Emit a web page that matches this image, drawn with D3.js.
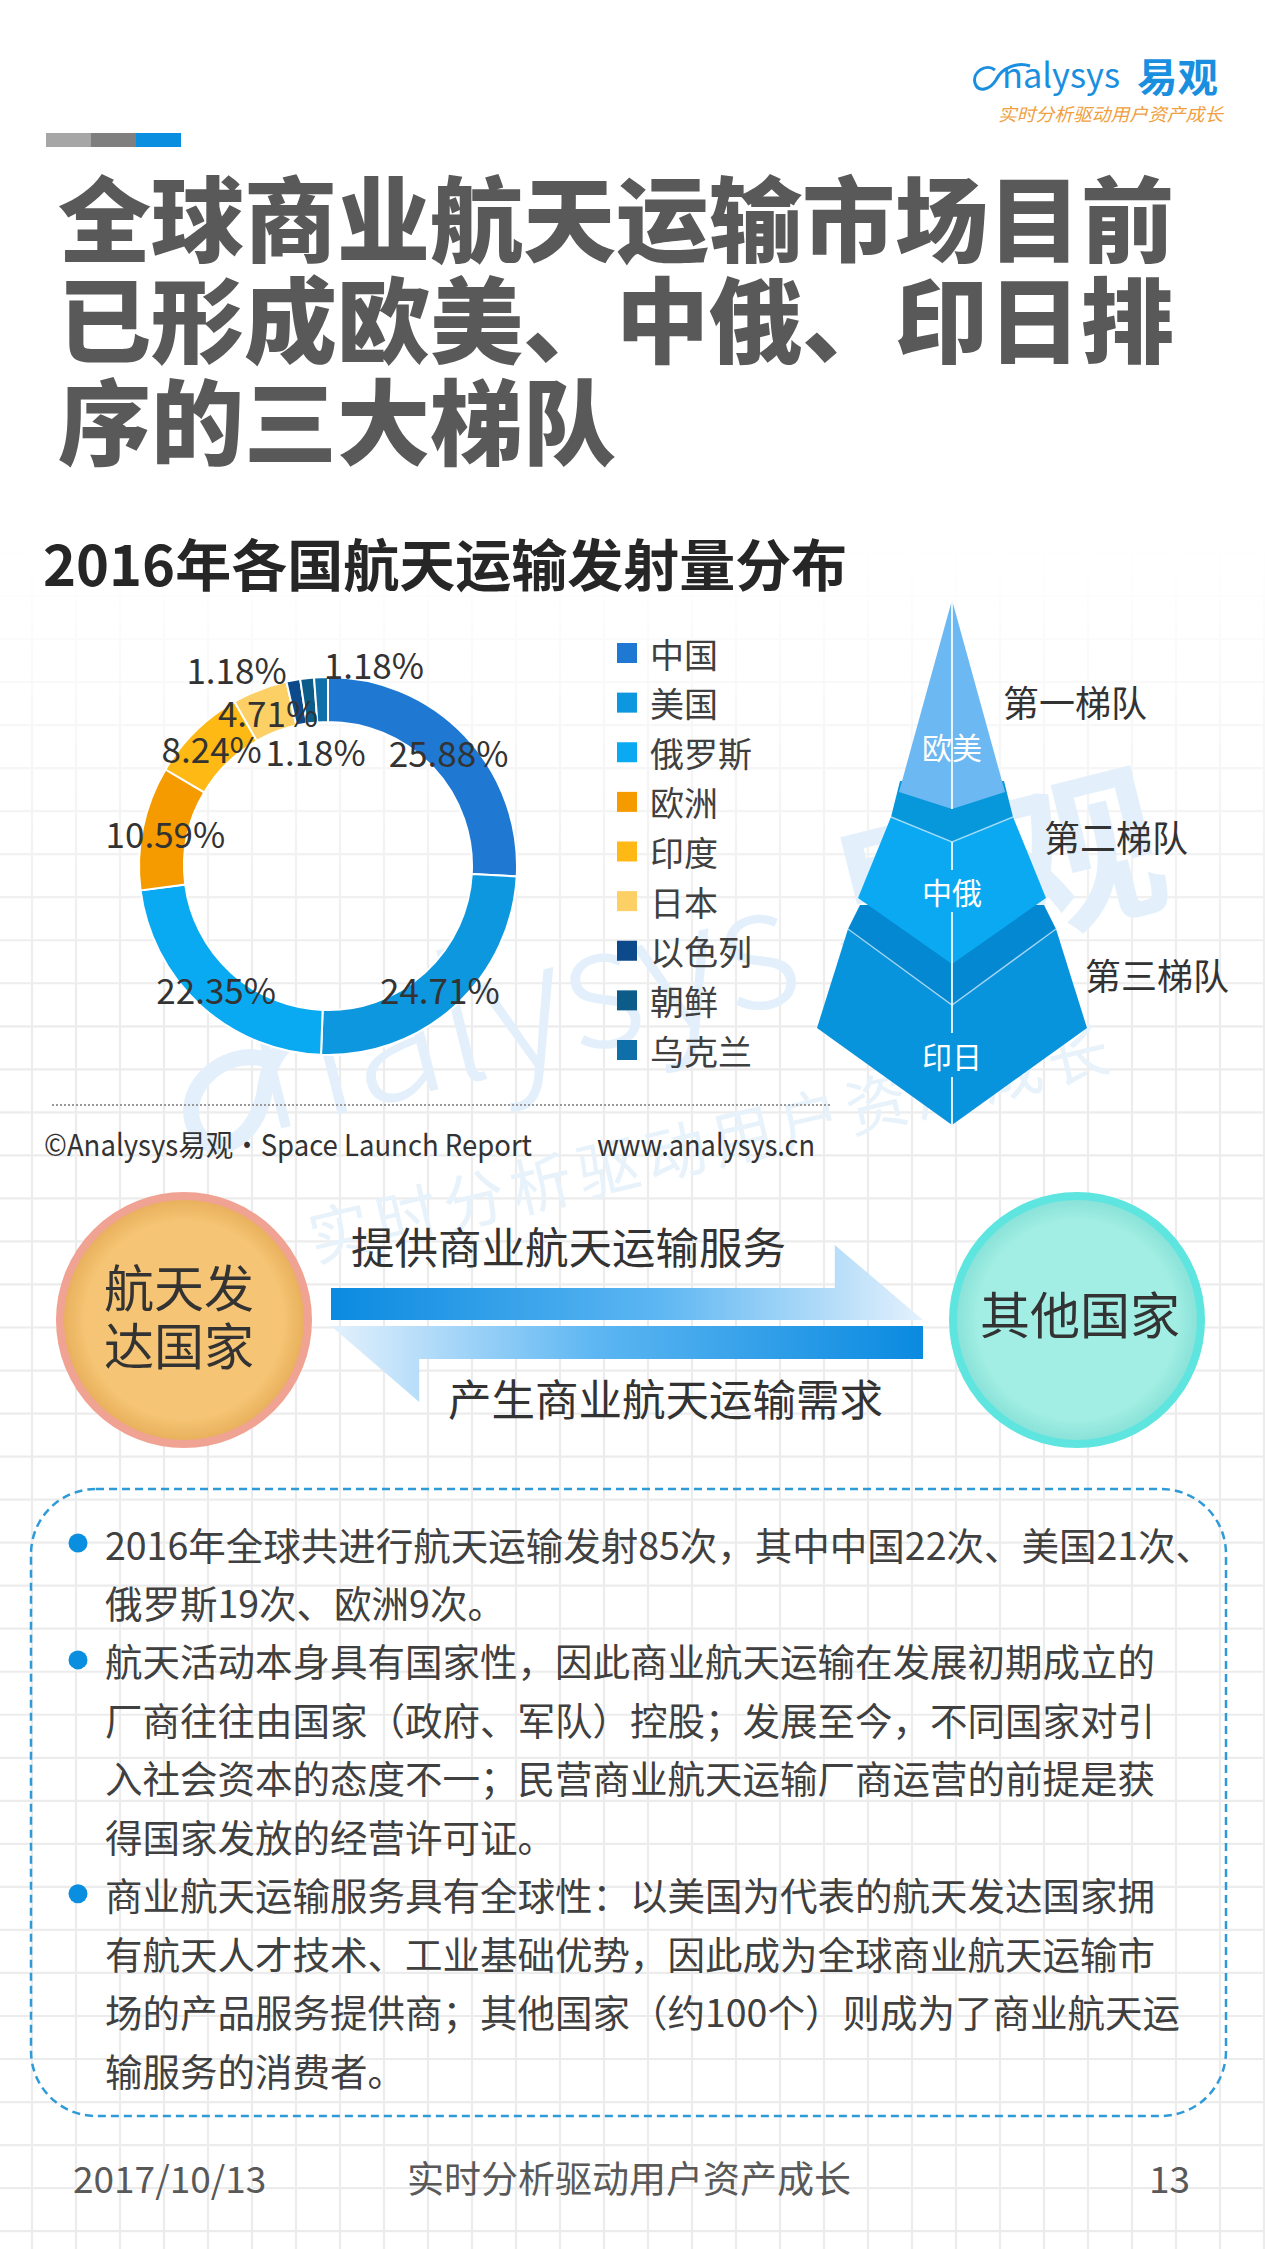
<!DOCTYPE html>
<html>
<head>
<meta charset="utf-8">
<script src="https://cdn.jsdelivr.net/npm/d3@7"></script>
<style>
  html, body { margin: 0; padding: 0; background: #fff; }
  svg { display: block; }
  text { font-family: "Noto Sans CJK SC", "Noto Sans", sans-serif; }
</style>
</head>
<body>
<svg id="slide" width="1265" height="2249"></svg>
<script>
// ---- data ----
const countries = ["中国", "美国", "俄罗斯", "欧洲", "印度", "日本", "以色列", "朝鲜", "乌克兰"];
const launches = [22, 21, 19, 9, 7, 4, 1, 1, 1];
const sliceColors = ["#1f78d1", "#0c97de", "#0aaaf3", "#f59b00", "#ffb914", "#fdd066", "#0d4a8b", "#0b5c88", "#0f6fa8"];
// small slices get their labels pushed off the ring (like the slide)
const labelNudge = [[0,0],[0,0],[0,0],[0,0],[0,0],[0,0],[-61,-34],[6,49],[52,-37]];

const tierRegions = ["欧美", "中俄", "印日"];
const tierNames = ["第一梯队", "第二梯队", "第三梯队"];

const titleLines = ["全球商业航天运输市场目前", "已形成欧美、中俄、印日排", "序的三大梯队"];
const chartTitle = "2016年各国航天运输发射量分布";
const sourceText = "©Analysys易观·Space Launch Report";
const siteText = "www.analysys.cn";
const flowTop = "提供商业航天运输服务";
const flowBottom = "产生商业航天运输需求";
const leftNode = ["航天发", "达国家"];
const rightNode = "其他国家";

const bullets = [
  ["2016年全球共进行航天运输发射85次，其中中国22次、美国21次、",
   "俄罗斯19次、欧洲9次。"],
  ["航天活动本身具有国家性，因此商业航天运输在发展初期成立的",
   "厂商往往由国家（政府、军队）控股；发展至今，不同国家对引",
   "入社会资本的态度不一；民营商业航天运输厂商运营的前提是获",
   "得国家发放的经营许可证。"],
  ["商业航天运输服务具有全球性：以美国为代表的航天发达国家拥",
   "有航天人才技术、工业基础优势，因此成为全球商业航天运输市",
   "场的产品服务提供商；其他国家（约100个）则成为了商业航天运",
   "输服务的消费者。"]
];
const footer = ["2017/10/13", "实时分析驱动用户资产成长", "13"];

const svg = d3.select("#slide"),
      width = +svg.attr("width"),
      height = +svg.attr("height");

const defs = svg.append("defs");

// ---- background grid (fades in from the chart title down) ----
const fade = defs.append("linearGradient").attr("id", "gridFade")
    .attr("gradientUnits", "userSpaceOnUse").attr("x1", 0).attr("x2", 0).attr("y1", 540).attr("y2", 1000);
fade.append("stop").attr("offset", 0).attr("stop-color", "#fff").attr("stop-opacity", 0);
fade.append("stop").attr("offset", 1).attr("stop-color", "#fff").attr("stop-opacity", 1);
defs.append("mask").attr("id", "gridMask")
  .append("rect").attr("x", 0).attr("y", 0).attr("width", width).attr("height", height).attr("fill", "url(#gridFade)");

const grid = svg.append("g").attr("mask", "url(#gridMask)")
    .attr("stroke", "#ececec").attr("stroke-width", 2.2);
grid.selectAll("line.v").data(d3.range(32, width, 44)).enter().append("line")
    .attr("class", "v").attr("x1", d => d).attr("x2", d => d).attr("y1", 540).attr("y2", height);
grid.selectAll("line.h").data(d3.range(36.6 + 43.03 * 12, height, 43.03)).enter().append("line")
    .attr("class", "h").attr("y1", d => d).attr("y2", d => d).attr("x1", 0).attr("x2", width);

// ---- watermark ----
const wmColor = "#e3f0fb";
const wm = svg.append("g").attr("transform", "translate(255,1135) rotate(-14)").attr("fill", wmColor);
wm.append("path")
    .attr("d", "M 30 -70 C -10 -95, -70 -60, -55 -15 C -45 15, 0 5, 20 -40 C 35 -80, 70 -100, 110 -80")
    .attr("fill", "none").attr("stroke", wmColor).attr("stroke-width", 16);
wm.append("text").attr("x", 10).attr("y", 0).attr("font-family", "Open Sans").attr("font-weight", 300)
    .attr("font-size", 170).text("nalysys");
wm.append("text").attr("x", 610).attr("y", -10).attr("font-weight", 700)
    .attr("font-size", 170).text("易观");
svg.append("g").attr("transform", "translate(315,1262) rotate(-13.5)")
  .append("text").attr("fill", "#e7f2fb").attr("font-size", 62).attr("letter-spacing", 7)
    .text("实时分析驱动用户资产成长");

// ---- header ----
const logo = svg.append("g");
logo.append("path")
    .attr("d", "M 995 70 C 986 63, 972 72, 975 83 C 978 93, 990 90, 996 80 C 1002 67, 1018 62, 1030 66")
    .attr("fill", "none").attr("stroke", "#1a8fe0").attr("stroke-width", 3);
logo.append("text").attr("x", 1002).attr("y", 88).attr("font-family", "Open Sans")
    .attr("font-size", 34).attr("fill", "#1a8fe0").attr("textLength", 118).attr("lengthAdjust", "spacingAndGlyphs")
    .text("nalysys");
logo.append("text").attr("x", 1137).attr("y", 92).attr("font-weight", 700)
    .attr("font-size", 40).attr("fill", "#1a8fe0").attr("textLength", 81).attr("lengthAdjust", "spacingAndGlyphs")
    .text("易观");
logo.append("text").attr("x", 998).attr("y", 113).attr("dominant-baseline", "central")
    .attr("font-size", 18).attr("font-style", "italic").attr("fill", "#f0a040")
    .attr("textLength", 225).attr("lengthAdjust", "spacingAndGlyphs")
    .text("实时分析驱动用户资产成长");

const barColors = ["#a6a6a6", "#7f7f7f", "#0a8fe0"];
const barX = d3.scaleBand().domain(d3.range(3)).range([46, 181]);
svg.append("g").selectAll("rect").data(barColors).enter().append("rect")
    .attr("x", (d, i) => barX(i)).attr("y", 133).attr("width", barX.bandwidth()).attr("height", 14)
    .attr("fill", d => d);

const titleY = d3.scaleLinear().domain([0, 1]).range([214, 315.5]);
svg.append("g").selectAll("text").data(titleLines).enter().append("text")
    .attr("x", 58).attr("y", (d, i) => titleY(i)).attr("dominant-baseline", "central")
    .attr("font-size", 93).attr("font-weight", 900).attr("fill", "#595959")
    .text(d => d);

svg.append("text").attr("x", 43).attr("y", 561).attr("dominant-baseline", "central")
    .attr("font-size", 56).attr("font-weight", 700).attr("fill", "#262626")
    .text(chartTitle);

// ---- donut ----
const total = d3.sum(launches);
const pct = d3.format(".2%");
const pie = d3.pie().sort(null).value(d => d)(launches);
const arc = d3.arc().innerRadius(144).outerRadius(189);
const labelArc = d3.arc().innerRadius(166).outerRadius(166);

const donut = svg.append("g").attr("transform", "translate(328,866)");
donut.selectAll("path").data(pie).enter().append("path")
    .attr("d", arc)
    .attr("fill", (d, i) => sliceColors[i])
    .attr("stroke", "#fff").attr("stroke-width", 2);

donut.selectAll("text").data(pie).enter().append("text")
    .attr("x", (d, i) => labelArc.centroid(d)[0] + labelNudge[i][0])
    .attr("y", (d, i) => labelArc.centroid(d)[1] + labelNudge[i][1])
    .attr("text-anchor", "middle").attr("dominant-baseline", "central")
    .attr("font-size", 35).attr("fill", "#333")
    .text(d => pct(d.value / total));

// legend
const legY = d3.scalePoint().domain(countries).range([653, 1050]);
const leg = svg.append("g").selectAll("g").data(countries).enter().append("g")
    .attr("transform", d => `translate(617,${legY(d)})`);
leg.append("rect").attr("x", 0).attr("y", -10).attr("width", 20).attr("height", 20)
    .attr("fill", (d, i) => sliceColors[i]);
leg.append("text").attr("x", 33).attr("y", 0).attr("dominant-baseline", "central")
    .attr("font-size", 34).attr("fill", "#404040").text(d => d);

// ---- pyramid of tiers ----
const cx = 952;
const tiers = [
  {top: {y: 600, hw: 0, dip: 0}, bot: {y: 792, hw: 53, dip: 17}, front: "#6cb8f2", labelY: 746, nameY: 701},
  {top: {y: 817, hw: 61, dip: 25, bhw: 52, by: 781}, bot: {y: 898, hw: 94, dip: 66}, front: "#0aa9f1", face: "#0798dc", labelY: 891, nameY: 836},
  {top: {y: 929, hw: 104, dip: 76, bhw: 92, by: 905}, bot: {y: 1028, hw: 135, dip: 97}, front: "#0893dd", face: "#0588d2", labelY: 1055, nameY: 974}
];
tiers.forEach((t, i) => { t.region = tierRegions[i]; t.name = tierNames[i]; });

const pyr = svg.append("g");
const line = d3.line();
tiers.slice().reverse().forEach(t => {
  const g = pyr.append("g");
  if (t.face) {
    g.append("path").attr("fill", t.face).attr("d", line([
      [cx - t.top.hw, t.top.y], [cx - t.top.bhw, t.top.by], [cx + t.top.bhw, t.top.by],
      [cx + t.top.hw, t.top.y], [cx, t.top.y + t.top.dip]]) + "Z");
  }
  [-1, 1].forEach(s => {
    g.append("path").attr("fill", t.front).attr("d", line([
      [cx + s * t.top.hw, t.top.y], [cx, t.top.y + t.top.dip],
      [cx, t.bot.y + t.bot.dip], [cx + s * t.bot.hw, t.bot.y]]) + "Z");
  });
  if (t.face) {
    g.append("path").attr("fill", "none").attr("stroke", "rgba(255,255,255,0.55)").attr("stroke-width", 1.5)
      .attr("d", line([[cx - t.top.hw, t.top.y], [cx, t.top.y + t.top.dip], [cx + t.top.hw, t.top.y]]));
  }
});
// centre ridge, broken around the lower labels
const ridge = [[600, 809], [842, 870], [912, 1033], [1077, 1125]];
pyr.selectAll("line.ridge").data(ridge).enter().append("line")
    .attr("x1", cx).attr("x2", cx).attr("y1", d => d[0]).attr("y2", d => d[1])
    .attr("stroke", "#fff").attr("stroke-opacity", 0.85).attr("stroke-width", 2);
pyr.selectAll("text.region").data(tiers).enter().append("text")
    .attr("x", cx).attr("y", d => d.labelY).attr("text-anchor", "middle").attr("dominant-baseline", "central")
    .attr("font-size", 30).attr("fill", "#fff").text(d => d.region);
pyr.selectAll("text.name").data(tiers).enter().append("text")
    .attr("x", d => cx + d.bot.hw - 2).attr("y", d => d.nameY).attr("dominant-baseline", "central")
    .attr("font-size", 36).attr("fill", "#333").text(d => d.name);

// source line
svg.append("line").attr("x1", 52).attr("x2", 831).attr("y1", 1105).attr("y2", 1105)
    .attr("stroke", "#9a9a9a").attr("stroke-width", 2).attr("stroke-dasharray", "2 2");
svg.append("text").attr("x", 44).attr("y", 1143).attr("dominant-baseline", "central")
    .attr("font-size", 30).attr("fill", "#333").attr("textLength", 488).attr("lengthAdjust", "spacingAndGlyphs")
    .text(sourceText);
svg.append("text").attr("x", 597).attr("y", 1143).attr("dominant-baseline", "central")
    .attr("font-size", 30).attr("fill", "#333").attr("textLength", 218).attr("lengthAdjust", "spacingAndGlyphs")
    .text(siteText);

// ---- flow between the two groups ----
function grad(id, stops) {
  const g = defs.append("linearGradient").attr("id", id).attr("x1", 0).attr("x2", 1).attr("y1", 0).attr("y2", 0);
  stops.forEach(s => g.append("stop").attr("offset", s[0]).attr("stop-color", s[1]));
}
grad("arrowR", [[0, "#0a8ae0"], [0.55, "#5cb6f2"], [1, "#e4f1fd"]]);
grad("arrowL", [[0, "#e4f1fd"], [0.45, "#5cb6f2"], [1, "#0a8ae0"]]);
const rg1 = defs.append("radialGradient").attr("id", "nodeL");
rg1.append("stop").attr("offset", 0.8).attr("stop-color", "#f5c474");
rg1.append("stop").attr("offset", 1).attr("stop-color", "#e6ad58");
const rg2 = defs.append("radialGradient").attr("id", "nodeR");
rg2.append("stop").attr("offset", 0.8).attr("stop-color", "#a2eee4");
rg2.append("stop").attr("offset", 1).attr("stop-color", "#85e0d6");

const ax = d3.scaleLinear().domain([0, 1]).range([331, 923]);
const flow = svg.append("g");
flow.append("path").attr("fill", "url(#arrowR)").attr("d", line([
  [ax(0), 1288], [ax(0.851), 1288], [ax(0.851), 1245], [ax(1), 1320], [ax(0), 1320]]) + "Z");
flow.append("path").attr("fill", "url(#arrowL)").attr("d", line([
  [ax(0), 1326], [ax(1), 1326], [ax(1), 1359], [ax(0.149), 1359], [ax(0.149), 1402]]) + "Z");
flow.append("text").attr("x", 351).attr("y", 1245).attr("dominant-baseline", "central")
    .attr("font-size", 43.5).attr("fill", "#333").text(flowTop);
flow.append("text").attr("x", 448).attr("y", 1397).attr("dominant-baseline", "central")
    .attr("font-size", 43.5).attr("fill", "#333").text(flowBottom);

flow.append("circle").attr("cx", 184).attr("cy", 1320).attr("r", 124)
    .attr("fill", "url(#nodeL)").attr("stroke", "#f0a293").attr("stroke-width", 8);
flow.append("circle").attr("cx", 1077).attr("cy", 1320).attr("r", 124)
    .attr("fill", "url(#nodeR)").attr("stroke", "#5ee5df").attr("stroke-width", 8);
flow.selectAll("text.ln").data(leftNode).enter().append("text")
    .attr("x", 179).attr("y", (d, i) => 1285 + i * 58).attr("text-anchor", "middle").attr("dominant-baseline", "central")
    .attr("font-size", 50).attr("fill", "#333").text(d => d);
flow.append("text").attr("x", 1080).attr("y", 1312).attr("text-anchor", "middle").attr("dominant-baseline", "central")
    .attr("font-size", 50).attr("fill", "#333").text(rightNode);

// ---- bullet box ----
svg.append("rect").attr("x", 31).attr("y", 1489).attr("width", 1195).attr("height", 627).attr("rx", 65)
    .attr("fill", "none").attr("stroke", "#2e9bd8").attr("stroke-width", 2.5).attr("stroke-dasharray", "8 5");

const rows = [];
bullets.forEach((b, bi) => b.forEach((l, li) => rows.push({text: l, first: li === 0})));
const rowY = d3.scaleLinear().domain([0, rows.length - 1]).range([1543, 2069]);
const body = svg.append("g");
body.selectAll("text").data(rows).enter().append("text")
    .attr("x", 105).attr("y", (d, i) => rowY(i)).attr("dominant-baseline", "central")
    .attr("font-size", 37.5).attr("fill", "#404040").text(d => d.text);
body.selectAll("circle").data(rows.map((d, i) => ({d, i})).filter(r => r.d.first)).enter().append("circle")
    .attr("cx", 78).attr("cy", r => rowY(r.i)).attr("r", 9.5).attr("fill", "#0a8fe0");

// ---- footer ----
const footX = [73, 407, 1149];
svg.append("g").selectAll("text").data(footer).enter().append("text")
    .attr("x", (d, i) => footX[i]).attr("y", 2177).attr("dominant-baseline", "central")
    .attr("font-size", 37).attr("fill", "#595959").text(d => d);
</script>
</body>
</html>
